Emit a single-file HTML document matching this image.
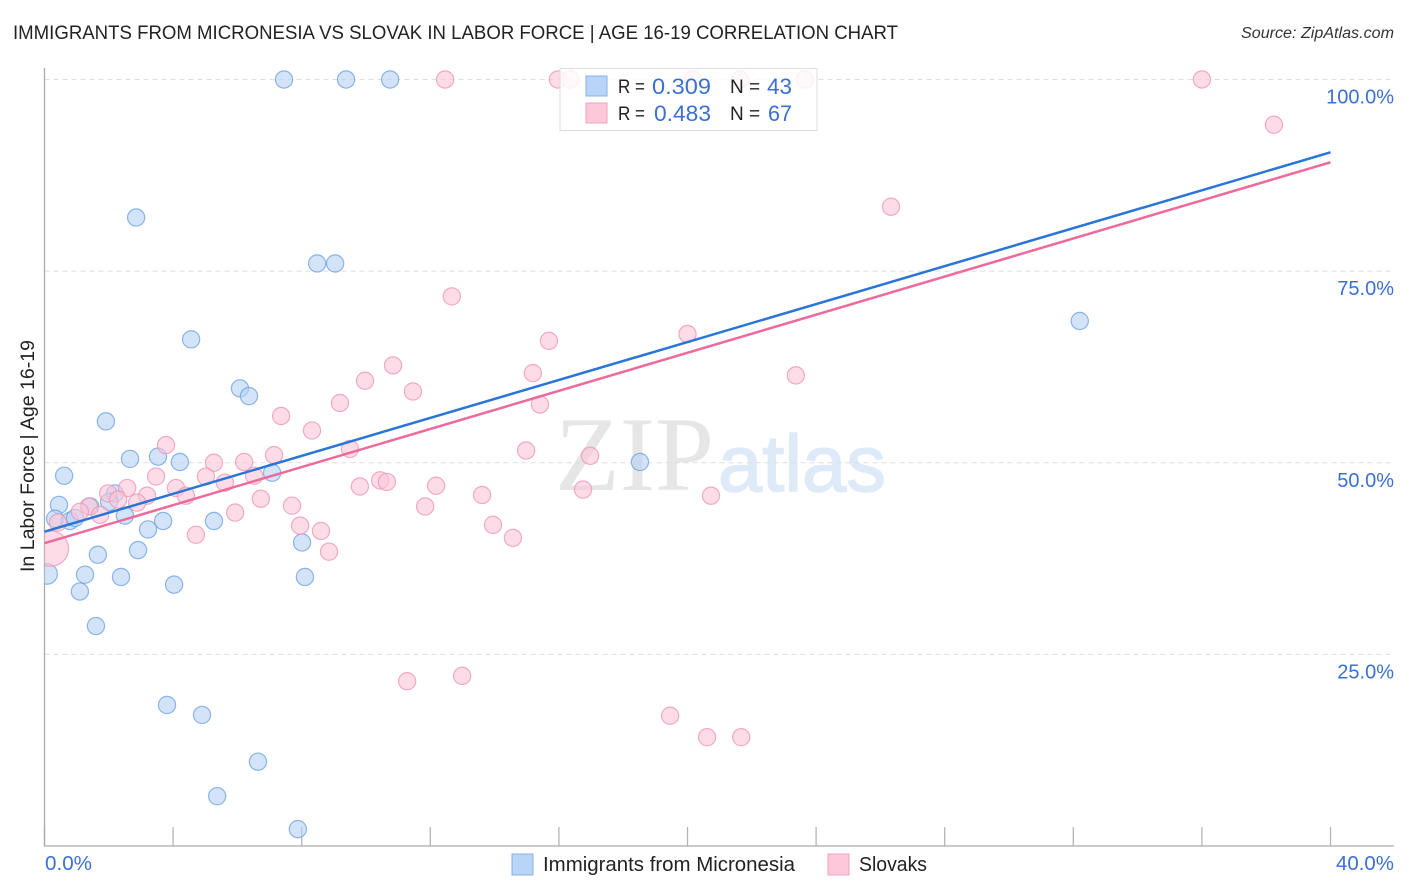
<!DOCTYPE html>
<html>
<head>
<meta charset="utf-8">
<title>Immigrants from Micronesia vs Slovak in Labor Force | Age 16-19 Correlation Chart</title>
<style>
html,body{margin:0;padding:0;background:#fff;}
svg{display:block;font-family:"Liberation Sans",sans-serif;}
</style>
</head>
<body>
<svg id="chart" width="1406" height="892" viewBox="0 0 1406 892" xmlns="http://www.w3.org/2000/svg">
  <defs><clipPath id="plot-clip"><rect x="44.5" y="60" width="1350" height="786"/></clipPath></defs>
  <rect x="0" y="0" width="1406" height="892" fill="#fff"/>
  <text x="13" y="39" font-size="19" fill="#222" textLength="885" lengthAdjust="spacingAndGlyphs">IMMIGRANTS FROM MICRONESIA VS SLOVAK IN LABOR FORCE | AGE 16-19 CORRELATION CHART</text>
  <text x="1241" y="38" font-size="15.5" font-style="italic" fill="#333" textLength="153" lengthAdjust="spacingAndGlyphs">Source: ZipAtlas.com</text>
  <g>
    <text x="555" y="490" font-family="'Liberation Serif',serif" font-size="106" fill="#e6e6e6">ZIP</text>
    <text x="718" y="491" font-family="'Liberation Sans',sans-serif" font-size="80" fill="#dfeaf9" stroke="#dfeaf9" stroke-width="1.5" textLength="168" lengthAdjust="spacingAndGlyphs">atlas</text>
  </g>
  <g id="grid"></g>
  <g id="xticks"></g>
  <line x1="44.5" y1="68" x2="44.5" y2="846" stroke="#aaa" stroke-width="1.3"/>
  <line x1="44" y1="846" x2="1394" y2="846" stroke="#aaa" stroke-width="1.3"/>
  <g id="points" clip-path="url(#plot-clip)"></g>
  <g id="trends"></g>
  <g id="ylabels"></g>
  <text transform="translate(34,456) rotate(-90)" font-size="19" fill="#222" text-anchor="middle" textLength="232" lengthAdjust="spacingAndGlyphs">In Labor Force | Age 16-19</text>
  <text x="45" y="870" font-size="20" fill="#3b70d2" textLength="47" lengthAdjust="spacingAndGlyphs">0.0%</text>
  <text x="1336" y="870" font-size="20" fill="#3b70d2" textLength="58" lengthAdjust="spacingAndGlyphs">40.0%</text>

  <g>
    <rect x="560" y="68.5" width="257" height="62" fill="#fff" fill-opacity="0.82" stroke="#ddd" stroke-width="1"/>
    <rect x="586" y="76" width="21" height="20" fill="#b8d4f6" stroke="#86b2ea" stroke-width="1"/>
    <rect x="586" y="103" width="21" height="20" fill="#fcc8da" stroke="#f2a0bd" stroke-width="1"/>
    <text x="618" y="93" font-size="19" fill="#222" textLength="27" lengthAdjust="spacingAndGlyphs">R =</text>
    <text x="652" y="94" font-size="22" fill="#3b70d2" textLength="59" lengthAdjust="spacingAndGlyphs">0.309</text>
    <text x="730" y="93" font-size="19" fill="#222">N =</text>
    <text x="767" y="94" font-size="22" fill="#3b70d2" textLength="25" lengthAdjust="spacingAndGlyphs">43</text>
    <text x="618" y="120" font-size="19" fill="#222" textLength="27" lengthAdjust="spacingAndGlyphs">R =</text>
    <text x="654" y="121" font-size="22" fill="#3b70d2" textLength="57" lengthAdjust="spacingAndGlyphs">0.483</text>
    <text x="730" y="120" font-size="19" fill="#222">N =</text>
    <text x="768" y="121" font-size="22" fill="#3b70d2" textLength="24" lengthAdjust="spacingAndGlyphs">67</text>
  </g>

  <g>
    <rect x="512" y="854" width="21" height="21" fill="#b8d4f6" stroke="#86b2ea" stroke-width="1"/>
    <text x="543" y="871" font-size="20" fill="#222" textLength="252" lengthAdjust="spacingAndGlyphs">Immigrants from Micronesia</text>
    <rect x="828" y="854" width="21" height="21" fill="#fcc8da" stroke="#f2a0bd" stroke-width="1"/>
    <text x="859" y="871" font-size="20" fill="#222" textLength="68" lengthAdjust="spacingAndGlyphs">Slovaks</text>
  </g>
</svg>
<script>
const yTickValues = [100, 75, 50, 25];
const yTickLabels = ["100.0%", "75.0%", "50.0%", "25.0%"];
const xTickValues = [0, 4, 8, 12, 16, 20, 24, 28, 32, 36, 40];

const microX = [7.45, 9.38, 10.75, 2.85, 8.48, 9.04, 4.56, 6.08, 6.36, 1.91, 32.2, 18.52, 2.66, 3.53, 4.21, 7.08, 0.61, 0.45, 2.19, 2.01, 1.42, 2.5, 0.33, 0.79, 0.95, 3.69, 5.27, 3.22, 8.01, 1.66, 2.91, 1.26, 0.08, 2.38, 8.1, 4.03, 1.1, 1.6, 3.81, 4.9, 6.64, 5.37, 7.88];
const microY = [100, 100, 100, 82.0, 76.0, 76.0, 66.1, 59.7, 58.7, 55.4, 68.5, 50.1, 50.5, 50.8, 50.1, 48.7, 48.3, 44.5, 46.0, 44.9, 44.3, 43.1, 42.7, 42.4, 42.8, 42.4, 42.4, 41.3, 39.6, 38.0, 38.6, 35.4, 35.5, 35.1, 35.1, 34.1, 33.2, 28.7, 18.4, 17.1, 11.0, 6.5, 2.2];
const microSize = [1, 1, 1, 1, 1, 1, 1, 1, 1, 1, 1, 1, 1, 1, 1, 1, 1, 1, 1, 1, 1, 1, 1, 1, 1, 1, 1, 1, 1, 1, 1, 1, 1.2, 1, 1, 1, 1, 1, 1, 1, 1, 1, 1];

const slovakX = [12.46, 15.97, 16.35, 20.17, 21.63, 23.65, 36.0, 38.24, 26.33, 12.67, 20.0, 15.69, 10.84, 15.19, 23.37, 9.97, 11.46, 15.41, 9.19, 7.36, 8.32, 3.78, 9.5, 14.98, 16.97, 5.27, 6.21, 7.14, 3.47, 5.02, 6.52, 5.61, 4.09, 3.19, 4.4, 10.44, 10.65, 9.81, 12.18, 16.75, 13.61, 20.73, 6.73, 2.57, 1.98, 2.29, 2.88, 7.7, 11.84, 5.93, 1.38, 1.1, 1.73, 0.42, 7.95, 8.6, 13.95, 4.71, 14.57, 8.85, 0.2, 11.28, 12.99, 19.46, 20.61, 21.67];
const slovakY = [100, 100, 100, 100, 100, 100, 100, 94.1, 83.4, 71.7, 66.8, 65.9, 62.7, 61.7, 61.4, 60.7, 59.3, 57.6, 57.8, 56.1, 54.2, 52.3, 51.8, 51.6, 50.9, 50.0, 50.1, 51.0, 48.2, 48.2, 48.3, 47.4, 46.7, 45.7, 45.7, 47.7, 47.5, 46.9, 47.0, 46.5, 45.8, 45.7, 45.3, 46.7, 46.0, 45.2, 44.8, 44.4, 44.3, 43.5, 44.3, 43.6, 43.2, 42.2, 41.8, 41.1, 41.9, 40.6, 40.2, 38.4, 38.8, 21.5, 22.2, 17.0, 14.2, 14.2];
const slovakSize = [1, 1, 1, 1, 1, 1, 1, 1, 1, 1, 1, 1, 1, 1, 1, 1, 1, 1, 1, 1, 1, 1, 1, 1, 1, 1, 1, 1, 1, 1, 1, 1, 1, 1, 1, 1, 1, 1, 1, 1, 1, 1, 1, 1, 1, 1, 1, 1, 1, 1, 1, 1, 1, 1, 1, 1, 1, 1, 1, 1, 2.05, 1, 1, 1, 1, 1];

const trendX = [0, 40];
const microTrend = [41.0, 90.5];
const slovakTrend = [39.5, 89.2];

const NS = "http://www.w3.org/2000/svg";
function xScale(v) { return 44.5 + v * (1330.5 - 44.5) / 40; }
function yScale(v) { return 846 - v * (846 - 79.5) / 100; }
function make(tag, attrs, parent) {
  const el = document.createElementNS(NS, tag);
  for (const k in attrs) el.setAttribute(k, attrs[k]);
  parent.appendChild(el);
  return el;
}

const grid = document.getElementById("grid");
const xticks = document.getElementById("xticks");
const ylabels = document.getElementById("ylabels");
const points = document.getElementById("points");
const trends = document.getElementById("trends");

yTickValues.forEach(function (v, i) {
  const line = make("line", { x1: 44.5, x2: 1394, y1: yScale(v), y2: yScale(v), stroke: "#dedede", "stroke-width": 1, "stroke-dasharray": "5 4" }, grid);
  
  
  const label = make("text", { x: 1394, y: yScale(v) + 24, "font-size": 20, fill: "#3b70d2", "text-anchor": "end" }, ylabels);
  label.textContent = yTickLabels[i];
  
  
});

xTickValues.forEach(function (v) {
  const tick = make("line", { x1: xScale(v), x2: xScale(v), y1: 827, y2: 846, stroke: "#b5b5b5", "stroke-width": 1.3 }, xticks);
  
  
});

function drawSeries(xs, ys, sizes, fill, stroke) {
  xs.forEach(function (x, i) {
    const c = make("circle", {
      cx: xScale(x), cy: yScale(ys[i]), r: 8.6 * sizes[i],
      fill: fill, "fill-opacity": 0.6, stroke: stroke, "stroke-opacity": 0.75, "stroke-width": 1.2
    }, points);
    
    
  });
}
drawSeries(microX, microY, microSize, "#b5d2f5", "#6a9fe2");
drawSeries(slovakX, slovakY, slovakSize, "#fbc5d8", "#ec93b2");

const microLine = make("line", { x1: xScale(trendX[0]), y1: yScale(microTrend[0]), x2: xScale(trendX[1]), y2: yScale(microTrend[1]), stroke: "#2a75d8", "stroke-width": 2.5 }, trends);


const slovakLine = make("line", { x1: xScale(trendX[0]), y1: yScale(slovakTrend[0]), x2: xScale(trendX[1]), y2: yScale(slovakTrend[1]), stroke: "#ec6a9c", "stroke-width": 2.5 }, trends);


</script>
</body>
</html>
